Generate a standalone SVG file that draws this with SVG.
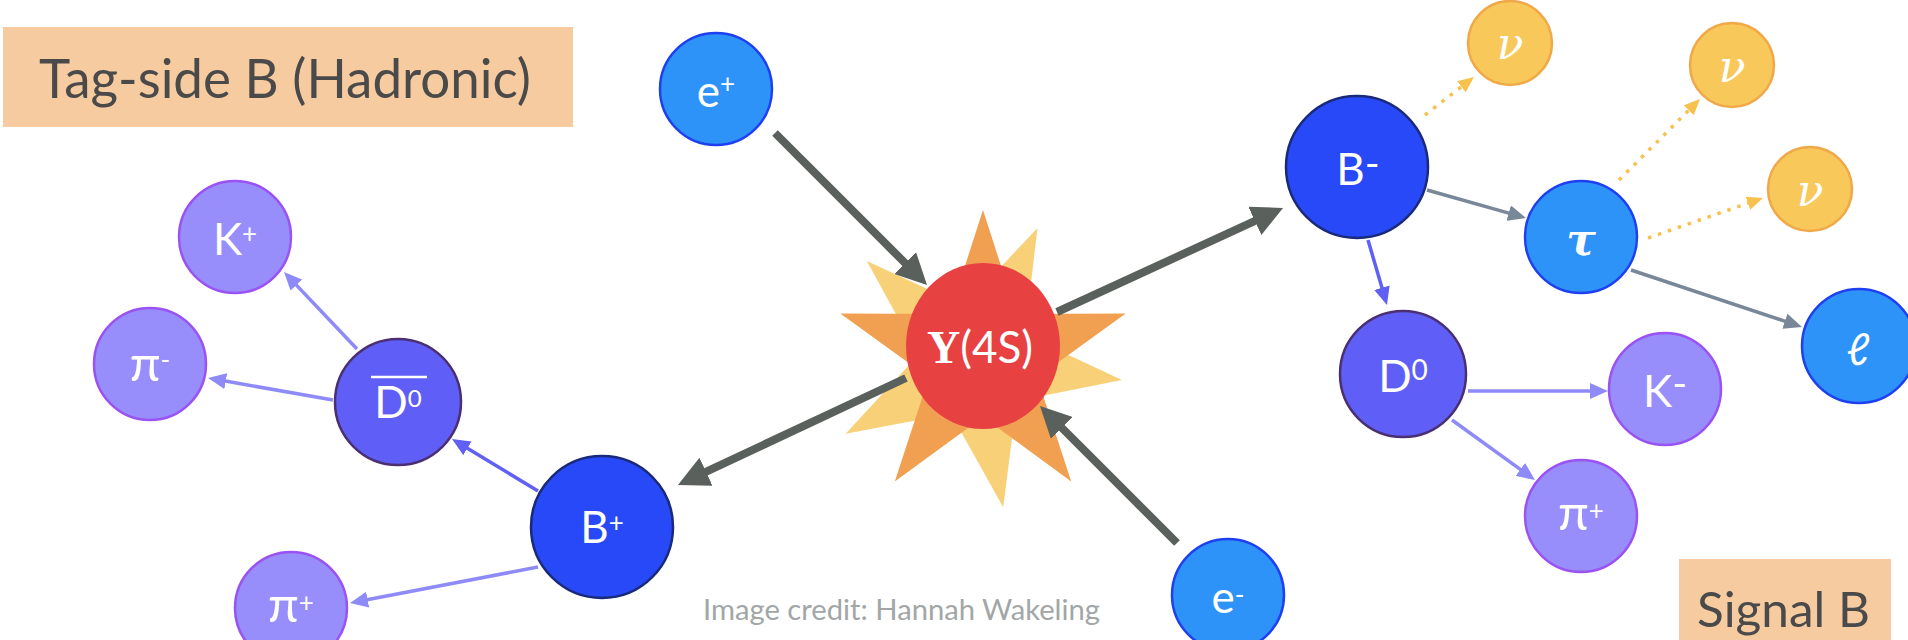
<svg xmlns="http://www.w3.org/2000/svg" width="1908" height="640" viewBox="0 0 1908 640">
<style>
.lbl{font-family:Lato,"Open Sans","DejaVu Sans",sans-serif;fill:#fff;font-size:44px;text-anchor:middle}
.sup{font-size:26px}
.pi{font-size:50px}
.gk{font-family:"DejaVu Serif","Liberation Serif",serif;font-style:italic}
.nE{fill:#2e93f8;stroke:#1e40f0;stroke-width:2.5}
.nB{fill:#2849f8;stroke:#1a2a7a;stroke-width:2.5}
.nD{fill:#5f5ff8;stroke:#4a2f72;stroke-width:2.5}
.nK{fill:#978dfb;stroke:#9a52f2;stroke-width:2.5}
.nN{fill:#f8c85a;stroke:#f0a848;stroke-width:2.5}
.dark{stroke:#5a605b;stroke-width:8;fill:none}
.lav{stroke:#8e8af8;stroke-width:3.5;fill:none}
.blu{stroke:#6060f4;stroke-width:3.5;fill:none}
.slt{stroke:#788899;stroke-width:3.5;fill:none}
.dot{stroke:#f7c14e;stroke-width:3.5;fill:none;stroke-dasharray:3.5 7}
.box{fill:#f7cba0}
.title{font-family:Lato,"Open Sans",sans-serif;fill:#4a4a4a}
</style>
<defs>
<marker id="ahDark" markerUnits="userSpaceOnUse" markerWidth="31" markerHeight="31" refX="2" refY="15.5" orient="auto"><path d="M0,0 L31,15.5 L0,31 z" fill="#5a605b"/></marker>
<marker id="ahLav" markerUnits="userSpaceOnUse" markerWidth="18" markerHeight="16" refX="2" refY="8" orient="auto"><path d="M0,0 L18,8 L0,16 z" fill="#8e8af8"/></marker>
<marker id="ahBlu" markerUnits="userSpaceOnUse" markerWidth="18" markerHeight="16" refX="2" refY="8" orient="auto"><path d="M0,0 L18,8 L0,16 z" fill="#6060f4"/></marker>
<marker id="ahSlt" markerUnits="userSpaceOnUse" markerWidth="18" markerHeight="16" refX="2" refY="8" orient="auto"><path d="M0,0 L18,8 L0,16 z" fill="#788899"/></marker>
<marker id="ahGold" markerUnits="userSpaceOnUse" markerWidth="16" markerHeight="14" refX="2" refY="7" orient="auto"><path d="M0,0 L16,7 L0,14 z" fill="#f7c14e"/></marker>
</defs>
<rect width="1908" height="640" fill="#fff"/>

<g id="tag-label">
<rect class="box" x="3" y="27" width="570" height="100"/>
<text class="title" x="39" y="98" font-size="54" textLength="492" lengthAdjust="spacingAndGlyphs">Tag-side B (Hadronic)</text>
</g>
<g id="signal-label">
<rect class="box" x="1679" y="559" width="212" height="90"/>
<text class="title" x="1697" y="627" font-size="49" textLength="173" lengthAdjust="spacingAndGlyphs">Signal B</text>
</g>
<text id="credit" x="703" y="620" font-family="Lato,'Open Sans',sans-serif" font-size="28" fill="#a2a6a6" textLength="397" lengthAdjust="spacingAndGlyphs">Image credit: Hannah Wakeling</text>

<g id="upsilon">
<polygon fill="#f8d078" points="1037.5,227.9 1024.9,334.4 1121.9,380 1016.7,400.9 1003.2,507.3 950.9,413.7 845.6,433.8 918.4,355.1 866.8,261.1 964.1,306"/>
<polygon fill="#f0a050" points="983,210 1016.5,313.9 1125.7,313.6 1037.2,377.6 1071.2,481.4 983,417 894.8,481.4 928.8,377.6 840.3,313.6 949.5,313.9"/>
<ellipse cx="983" cy="346" rx="77" ry="83" fill="#e84142"/>
<text x="980" y="363" font-size="44" fill="#fff" text-anchor="middle"><tspan font-family="'Liberation Serif',serif" font-weight="bold" font-size="46">Υ</tspan><tspan font-family="Lato,'Open Sans',sans-serif">(4S)</tspan></text>
</g>

<g id="connectors">
<line class="dark" x1="775" y1="133" x2="906.5" y2="264.5" marker-end="url(#ahDark)"/>
<line class="dark" x1="1177" y1="543" x2="1060.5" y2="426.5" marker-end="url(#ahDark)"/>
<line class="dark" x1="906" y1="378" x2="704.2" y2="472.6" marker-end="url(#ahDark)"/>
<line class="dark" x1="1057" y1="312" x2="1256.7" y2="220.1" marker-end="url(#ahDark)"/>
<line class="blu" x1="538" y1="491" x2="465.7" y2="447.3" marker-end="url(#ahBlu)"/>
<line class="lav" x1="538" y1="567" x2="365.7" y2="600" marker-end="url(#ahLav)"/>
<line class="lav" x1="357" y1="349" x2="295" y2="283.6" marker-end="url(#ahLav)"/>
<line class="lav" x1="333" y1="400" x2="223.8" y2="380.8" marker-end="url(#ahLav)"/>
<line class="blu" x1="1368" y1="240" x2="1382.5" y2="289.6" marker-end="url(#ahBlu)"/>
<line class="lav" x1="1468" y1="391" x2="1592" y2="391" marker-end="url(#ahLav)"/>
<line class="lav" x1="1452" y1="420" x2="1522" y2="470.6" marker-end="url(#ahLav)"/>
<line class="slt" x1="1427" y1="190" x2="1510.6" y2="213.6" marker-end="url(#ahSlt)"/>
<line class="slt" x1="1631" y1="270" x2="1786.8" y2="321.9" marker-end="url(#ahSlt)"/>
<line class="dot" x1="1425" y1="115" x2="1462.9" y2="85.6" marker-end="url(#ahGold)"/>
<line class="dot" x1="1619" y1="180" x2="1690.1" y2="108.9" marker-end="url(#ahGold)"/>
<line class="dot" x1="1648" y1="238" x2="1749.8" y2="202.6" marker-end="url(#ahGold)"/>
</g>

<g id="e-plus"><circle class="nE" cx="716" cy="89" r="56"/><text class="lbl" x="716" y="107">e<tspan class="sup" dy="-14">+</tspan></text></g>
<g id="e-minus"><circle class="nE" cx="1228" cy="595" r="56"/><text class="lbl" x="1228" y="613">e<tspan class="sup" dy="-9">-</tspan></text></g>
<g id="B-plus"><circle class="nB" cx="602" cy="527" r="71"/><text class="lbl" x="602" y="543">B<tspan class="sup" dy="-11">+</tspan></text></g>
<g id="D0bar"><circle class="nD" cx="398" cy="402" r="63"/><text class="lbl" x="398" y="418" font-size="39">D<tspan font-size="24" dy="-11">0</tspan></text><line x1="371" y1="377" x2="427" y2="377" stroke="#fff" stroke-width="2.5"/></g>
<g id="K-plus"><circle class="nK" cx="235" cy="237" r="56"/><text class="lbl" x="235" y="255">K<tspan class="sup" dy="-12">+</tspan></text></g>
<g id="pi-minus"><circle class="nK" cx="150" cy="364" r="56"/><text class="lbl" x="150" y="381"><tspan class="pi">π</tspan><tspan class="sup" dy="-12">-</tspan></text></g>
<g id="pi-plus-tag"><circle class="nK" cx="291" cy="608" r="56"/><text class="lbl" x="291" y="622"><tspan class="pi">π</tspan><tspan class="sup" dy="-10">+</tspan></text></g>

<g id="B-minus"><circle class="nB" cx="1357" cy="167" r="71"/><text class="lbl" x="1358" y="185">B<tspan font-size="40" dy="-7">-</tspan></text></g>
<g id="D0"><circle class="nD" cx="1403" cy="374" r="63"/><text class="lbl" x="1403" y="392">D<tspan font-size="28" dy="-12">0</tspan></text></g>
<g id="K-minus"><circle class="nK" cx="1665" cy="389" r="56"/><text class="lbl" x="1665" y="407">K<tspan font-size="40" dy="-9">-</tspan></text></g>
<g id="pi-plus-sig"><circle class="nK" cx="1581" cy="516" r="56"/><text class="lbl" x="1581" y="530"><tspan class="pi">π</tspan><tspan class="sup" dy="-10">+</tspan></text></g>
<g id="tau"><circle class="nE" cx="1581" cy="237" r="56"/><text class="lbl gk" x="1581" y="255" font-size="46" font-weight="bold">τ</text></g>
<g id="ell"><circle class="nE" cx="1859" cy="346" r="57"/><text class="lbl" x="1858" y="365" font-family="'DejaVu Serif',serif" font-style="italic" font-size="40">ℓ</text></g>
<g id="nu-1"><circle class="nN" cx="1510" cy="43" r="42"/><text class="lbl gk" x="1510" y="59" font-size="52">ν</text></g>
<g id="nu-2"><circle class="nN" cx="1732" cy="65" r="42"/><text class="lbl gk" x="1732" y="82" font-size="52">ν</text></g>
<g id="nu-3"><circle class="nN" cx="1810" cy="189" r="42"/><text class="lbl gk" x="1810" y="206" font-size="52">ν</text></g>
</svg>
